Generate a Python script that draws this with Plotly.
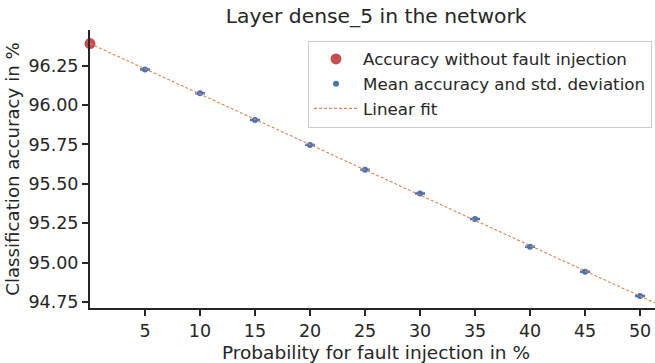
import numpy as np
import plotly.graph_objects as go

# Data
baseline_x = [0]
baseline_acc = [96.39]
probabilities = [5, 10, 15, 20, 25, 30, 35, 40, 45, 50]
mean_acc = [96.225, 96.074, 95.905, 95.747, 95.590, 95.439, 95.277, 95.100, 94.942, 94.788]
std_acc = [0.004, 0.004, 0.004, 0.004, 0.004, 0.004, 0.004, 0.004, 0.004, 0.004]
x_ticks = [5, 10, 15, 20, 25, 30, 35, 40, 45, 50]
y_ticks = [94.75, 95.00, 95.25, 95.50, 95.75, 96.00, 96.25]

# Linear fit of all measured points
fx = np.array(baseline_x + probabilities, dtype=float)
fy = np.array(baseline_acc + mean_acc, dtype=float)
slope, intercept = np.polyfit(fx, fy, 1)
fit_x = [0, 52]
fit_y = [intercept + slope * v for v in fit_x]

TEXT = "#262626"
FONT = "DejaVu Sans"

fig = go.Figure()
fig.add_trace(go.Scatter(
    x=baseline_x, y=baseline_acc, mode="markers",
    marker=dict(color="#C44E52", size=11),
    name="Accuracy without fault injection", cliponaxis=False,
))
fig.add_trace(go.Scatter(
    x=probabilities, y=mean_acc, mode="markers",
    marker=dict(color="#4C72B0", size=6),
    error_y=dict(type="data", array=std_acc, color="#4C72B0", thickness=1.2, width=5),
    name="Mean accuracy and std. deviation", cliponaxis=False,
))
fig.add_trace(go.Scatter(
    x=fit_x, y=fit_y, mode="lines",
    line=dict(color="#DD8452", width=1.1, dash="3px,2px"),
    name="Linear fit",
))

fig.update_layout(
    width=655, height=363,
    margin=dict(l=90, r=0, t=30, b=55),
    paper_bgcolor="white", plot_bgcolor="white",
    font=dict(family=FONT, color=TEXT, size=16),
    title=dict(text="Layer dense_5 in the network", x=0.5743, xanchor="center",
               y=0.955, yanchor="middle", font=dict(size=20.3, color=TEXT)),
    showlegend=True,
    legend=dict(x=0.9947, xanchor="right", y=0.962, yanchor="top",
                bgcolor="rgba(255,255,255,0.85)", bordercolor="#cccccc", borderwidth=1,
                font=dict(size=16.7, color=TEXT), tracegroupgap=0,
                itemwidth=44),
    annotations=[dict(
        text="Probability for fault injection in %", xref="paper", yref="paper",
        x=0.507, y=-0.16, xanchor="center", yanchor="middle", showarrow=False,
        font=dict(size=18.5, color=TEXT),
    )],
)
fig.update_xaxes(
    range=[0, 51.36], tickvals=x_ticks, ticks="outside", ticklen=6, tickwidth=1.5,
    tickcolor=TEXT, showline=True, linecolor=TEXT, linewidth=2, showgrid=False,
    zeroline=False, tickfont=dict(size=17.5),
)
fig.update_yaxes(
    range=[94.712, 96.476], tickvals=y_ticks, tickformat=".2f", ticks="outside",
    ticklen=6, tickwidth=1.5, tickcolor=TEXT, showline=True, linecolor=TEXT, linewidth=2,
    showgrid=False, zeroline=False, tickfont=dict(size=17.5),
    title=dict(text="Classification accuracy in %", font=dict(size=18.2), standoff=4),
)

fig.write_html("out.html")
